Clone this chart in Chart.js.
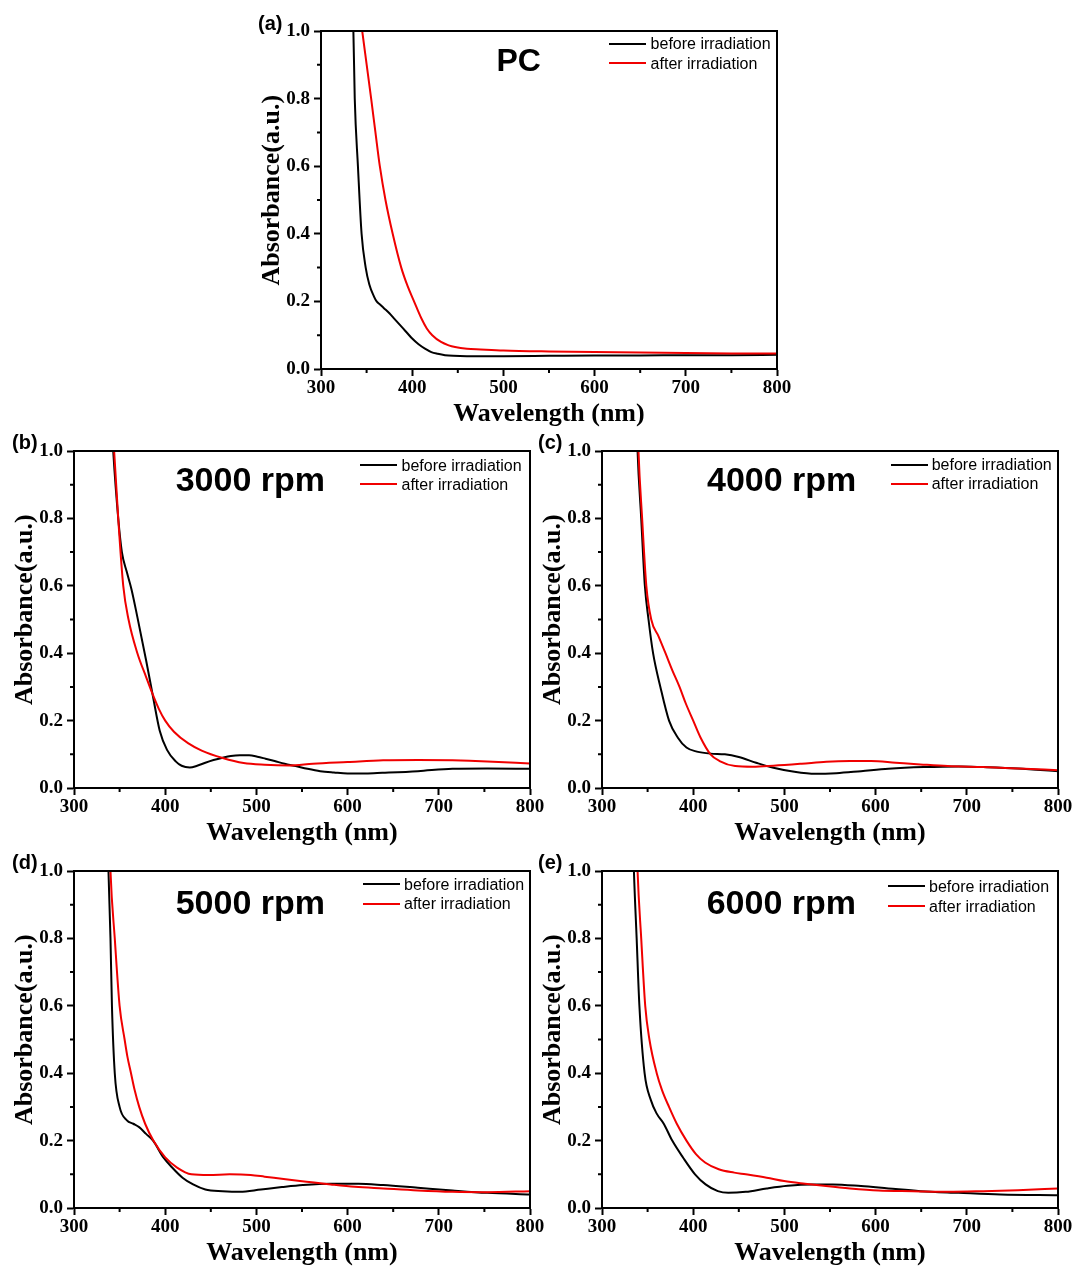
<!DOCTYPE html>
<html>
<head>
<meta charset="utf-8">
<script src="https://cdn.jsdelivr.net/npm/chart.js@4.4.0/dist/chart.umd.min.js"></script>
<style>
    body { margin: 0; background: #fff; width: 1076px; height: 1269px; position: relative; overflow: hidden; }
    canvas.panel { position: absolute; }
    .tag { position: absolute; font: bold 20px/20px "Liberation Sans", Arial, sans-serif; color: #000; white-space: nowrap; }
    .note { position: absolute; font: bold 34px/34px "Liberation Sans", Arial, sans-serif; color: #000; white-space: nowrap; }
    .note.pc { font-size: 32px; line-height: 32px; }
    .leg { position: absolute; font: 16px/19px "Liberation Sans", Arial, sans-serif; color: #000; white-space: nowrap; }
    .swatch { position: absolute; width: 37px; height: 2px; }
</style>
</head>
<body>
<script>
// ---- data ----
const seriesNames = ['before irradiation', 'after irradiation'];
const xTicks = [300, 400, 500, 600, 700, 800];
const xMinor = [350, 450, 550, 650, 750];
const yTicks = [0, 0.2, 0.4, 0.6, 0.8, 1.0];
const yMinor = [0.1, 0.3, 0.5, 0.7, 0.9];

// (a) PC
const pcBeforeWl  = [333, 335.5, 337, 340.5, 344.5, 349, 353, 358, 361, 365, 369, 375, 380, 385, 390, 395, 400, 407, 414, 421, 428, 436, 445, 460, 500, 550, 600, 650, 700, 750, 800];
const pcBeforeAbs = [1.1, 1.0, 0.8, 0.6, 0.4, 0.3, 0.25, 0.215, 0.2, 0.19, 0.18, 0.165, 0.15, 0.135, 0.12, 0.105, 0.09, 0.073, 0.06, 0.05, 0.045, 0.041, 0.039, 0.038, 0.038, 0.039, 0.04, 0.04, 0.041, 0.041, 0.042];
const pcAfterWl   = [340.5, 345.2, 350.1, 355, 359.7, 364.5, 370.7, 378.6, 388, 395, 402, 410, 416, 422, 431.6, 440, 447, 460, 475, 500, 550, 600, 650, 700, 750, 800];
const pcAfterAbs  = [1.1, 1.0, 0.9, 0.8, 0.7, 0.6, 0.5, 0.4, 0.3, 0.245, 0.2, 0.15, 0.12, 0.1, 0.08, 0.07, 0.065, 0.06, 0.058, 0.055, 0.052, 0.05, 0.049, 0.047, 0.046, 0.046];

// (b) 3000 rpm
const r3BeforeWl  = [341, 343, 348.5, 352.5, 358, 363, 369.5, 379, 386.7, 394, 402, 411.5, 418, 427, 435, 444, 453, 463, 472, 482, 492, 501, 510, 520, 531, 543, 556, 570, 585, 600, 620, 638, 677, 715, 753, 800];
const r3BeforeAbs = [1.1, 1.0, 0.8, 0.7, 0.64, 0.59, 0.507, 0.38, 0.27, 0.17, 0.113, 0.079, 0.066, 0.061, 0.066, 0.075, 0.083, 0.09, 0.095, 0.097, 0.097, 0.093, 0.087, 0.08, 0.072, 0.065, 0.057, 0.05, 0.046, 0.043, 0.043, 0.045, 0.05, 0.057, 0.058, 0.057];
const r3AfterWl   = [342, 344, 348.5, 354, 359.8, 369.5, 379, 386, 393, 400, 409.6, 425, 440, 463, 486, 509, 536, 562, 600, 639, 677, 715, 753, 800];
const r3AfterAbs  = [1.1, 1.0, 0.8, 0.6, 0.5, 0.4, 0.33, 0.28, 0.235, 0.2, 0.167, 0.133, 0.111, 0.089, 0.074, 0.069, 0.067, 0.072, 0.077, 0.082, 0.083, 0.082, 0.079, 0.073];

// (c) 4000 rpm
const r4BeforeWl  = [338, 339, 343, 347, 351, 356, 364, 373.5, 383, 392.6, 404, 419, 434.7, 450, 469, 488, 511, 534, 557, 584, 614, 653, 691, 718, 756, 800];
const r4BeforeAbs = [1.1, 1.0, 0.8, 0.6, 0.5, 0.4, 0.3, 0.2, 0.15, 0.12, 0.108, 0.102, 0.1, 0.092, 0.075, 0.06, 0.048, 0.042, 0.044, 0.05, 0.057, 0.062, 0.064, 0.062, 0.058, 0.05];
const r4AfterWl   = [339, 340, 344, 348.6, 354, 362, 369.6, 377, 385, 392, 400, 408, 419, 429, 446, 465, 488, 519, 546, 572, 595, 622, 649, 679, 718, 756, 800];
const r4AfterAbs  = [1.1, 1.0, 0.8, 0.6, 0.5, 0.45, 0.4, 0.35, 0.3, 0.25, 0.2, 0.15, 0.1, 0.08, 0.065, 0.063, 0.066, 0.072, 0.078, 0.08, 0.08, 0.075, 0.07, 0.065, 0.062, 0.058, 0.053];

// (d) 5000 rpm
const r5BeforeWl  = [337, 337.8, 340, 341.6, 344.7, 350, 358, 365, 371.4, 379, 386.7, 398, 407.7, 419, 430.6, 444, 463, 482, 505, 528, 551, 581.5, 612, 639, 677, 715, 753, 800];
const r5BeforeAbs = [1.1, 1.0, 0.8, 0.6, 0.4, 0.3, 0.26, 0.25, 0.24, 0.22, 0.2, 0.15, 0.12, 0.09, 0.07, 0.055, 0.05, 0.048, 0.055, 0.062, 0.068, 0.072, 0.072, 0.068, 0.06, 0.052, 0.045, 0.04];
const r5AfterWl   = [339, 340, 344.7, 350, 355.5, 358.5, 362.5, 366.5, 371.5, 378, 387, 400, 413, 428.7, 447.8, 470.7, 493.7, 509, 532, 555, 581.5, 608, 639, 677, 715, 753, 800];
const r5AfterAbs  = [1.1, 1.0, 0.8, 0.6, 0.5, 0.45, 0.4, 0.35, 0.3, 0.25, 0.2, 0.15, 0.12, 0.1, 0.098, 0.1, 0.098, 0.093, 0.085, 0.078, 0.07, 0.063, 0.058, 0.052, 0.048, 0.047, 0.05];

// (e) 6000 rpm
const r6BeforeWl  = [334, 335, 338, 341, 346.7, 353.6, 360, 367.7, 377, 388.8, 402, 413.6, 427, 438.5, 457.6, 480.6, 503.5, 530, 553, 584, 614, 649, 691, 737, 800];
const r6BeforeAbs = [1.1, 1.0, 0.8, 0.6, 0.4, 0.32, 0.28, 0.25, 0.2, 0.15, 0.1, 0.07, 0.05, 0.045, 0.048, 0.058, 0.066, 0.07, 0.07, 0.065, 0.058, 0.05, 0.045, 0.04, 0.038];
const r6AfterWl   = [338, 339, 343, 347.4, 352, 360, 365.8, 373.5, 382, 392.6, 403, 413, 428, 445, 457.6, 480.6, 499.7, 522.6, 545.6, 572, 603, 641, 679.5, 718, 756, 800];
const r6AfterAbs  = [1.1, 1.0, 0.8, 0.6, 0.5, 0.4, 0.35, 0.3, 0.25, 0.2, 0.16, 0.135, 0.115, 0.105, 0.1, 0.09, 0.08, 0.072, 0.065, 0.058, 0.052, 0.05, 0.048, 0.05, 0.053, 0.058];

// ---- layout of the five panels (plot rectangles in page pixels) ----
const panels = [
    { tag: '(a)', note: 'PC', L: 321, T: 31, W: 456, H: 338,
      before: [pcBeforeWl, pcBeforeAbs], after: [pcAfterWl, pcAfterAbs],
      tagPos: [258, 13], notePos: [496.5, 43.5], pc: true, leg: [609.4, 650.6, 43.8, 63.2] },
    { tag: '(b)', note: '3000 rpm', L: 74, T: 451, W: 456, H: 337,
      before: [r3BeforeWl, r3BeforeAbs], after: [r3AfterWl, r3AfterAbs],
      tagPos: [12, 431.5], notePos: [175.7, 462], leg: [360.4, 401.5, 465.3, 484.2] },
    { tag: '(c)', note: '4000 rpm', L: 602, T: 451, W: 456, H: 337,
      before: [r4BeforeWl, r4BeforeAbs], after: [r4AfterWl, r4AfterAbs],
      tagPos: [538, 431.5], notePos: [707, 462], leg: [890.5, 931.7, 464.5, 483.5] },
    { tag: '(d)', note: '5000 rpm', L: 74, T: 871, W: 456, H: 337,
      before: [r5BeforeWl, r5BeforeAbs], after: [r5AfterWl, r5AfterAbs],
      tagPos: [12, 851.5], notePos: [175.7, 885], leg: [363.2, 404, 884.3, 903.6] },
    { tag: '(e)', note: '6000 rpm', L: 602, T: 871, W: 456, H: 337,
      before: [r6BeforeWl, r6BeforeAbs], after: [r6AfterWl, r6AfterAbs],
      tagPos: [538, 851.5], notePos: [706.7, 885], leg: [888, 929, 886, 906] }
];

const colors = ['#000000', '#f00000'];
const Y_AXIS_W = 74, PAD_TOP = 21, PAD_RIGHT = 15, X_AXIS_H = 60;

Chart.defaults.color = '#000';

// frame (top/right) and minor tick marks
const frameAndMinor = {
    id: 'frameAndMinor',
    afterDraw(chart) {
        const {ctx, chartArea: a, scales: {x, y}} = chart;
        ctx.save();
        ctx.strokeStyle = '#000';
        ctx.lineWidth = 2;
        ctx.beginPath();
        ctx.moveTo(a.left - 1, a.top);
        ctx.lineTo(a.right, a.top);
        ctx.lineTo(a.right, a.bottom + 1);
        xMinor.forEach(v => {
            const px = x.getPixelForValue(v);
            ctx.moveTo(px, a.bottom);
            ctx.lineTo(px, a.bottom + 4);
        });
        yMinor.forEach(v => {
            const py = y.getPixelForValue(v);
            ctx.moveTo(a.left, py);
            ctx.lineTo(a.left - 4, py);
        });
        ctx.stroke();
        ctx.restore();
    }
};

function toPoints(wl, abs) {
    return wl.map((w, i) => ({x: w, y: abs[i]}));
}

function addDiv(cls, text, left, top) {
    const d = document.createElement('div');
    d.className = cls;
    d.textContent = text;
    d.style.left = left + 'px';
    d.style.top = top + 'px';
    document.body.appendChild(d);
    return d;
}

const tickFont = {family: '"Liberation Serif", "Times New Roman", serif', weight: 'bold', size: 19};
const titleFont = {family: '"Liberation Serif", "Times New Roman", serif', weight: 'bold', size: 26, lineHeight: 1};

panels.forEach(p => {
    const canvas = document.createElement('canvas');
    canvas.className = 'panel';
    const cw = p.W + Y_AXIS_W + PAD_RIGHT, ch = p.H + PAD_TOP + X_AXIS_H;
    canvas.width = cw; canvas.height = ch;
    canvas.style.left = (p.L - Y_AXIS_W) + 'px';
    canvas.style.top = (p.T - PAD_TOP) + 'px';
    canvas.style.width = cw + 'px';
    canvas.style.height = ch + 'px';
    document.body.appendChild(canvas);

    new Chart(canvas.getContext('2d'), {
        type: 'line',
        data: {
            datasets: [
                { label: seriesNames[0], data: toPoints(p.before[0], p.before[1]), borderColor: colors[0], order: 2 },
                { label: seriesNames[1], data: toPoints(p.after[0], p.after[1]), borderColor: colors[1], order: 1 }
            ]
        },
        options: {
            responsive: false,
            animation: false,
            devicePixelRatio: 1,
            layout: { padding: { top: PAD_TOP, right: PAD_RIGHT, left: 0, bottom: 0 } },
            elements: {
                point: { radius: 0 },
                line: { borderWidth: 2, cubicInterpolationMode: 'monotone', fill: false }
            },
            plugins: { legend: { display: false }, tooltip: { enabled: false } },
            scales: {
                x: {
                    type: 'linear', min: 300, max: 800,
                    afterBuildTicks: s => { s.ticks = xTicks.map(v => ({value: v})); },
                    afterFit: s => { s.height = X_AXIS_H; s.paddingLeft = 0; s.paddingRight = 0; },
                    ticks: { font: tickFont, padding: 1, maxRotation: 0 },
                    grid: { drawOnChartArea: false, drawTicks: true, tickLength: 7, tickWidth: 2, tickColor: '#000' },
                    border: { display: true, width: 2, color: '#000' },
                    title: { display: true, text: 'Wavelength (nm)', font: titleFont, padding: { top: 0, bottom: 2 } }
                },
                y: {
                    type: 'linear', min: 0, max: 1,
                    afterBuildTicks: s => { s.ticks = yTicks.map(v => ({value: v})); },
                    afterFit: s => { s.width = Y_AXIS_W; s.paddingTop = 0; s.paddingBottom = 0; },
                    ticks: { font: tickFont, padding: 4, callback: v => v.toFixed(1) },
                    grid: { drawOnChartArea: false, drawTicks: true, tickLength: 7, tickWidth: 2, tickColor: '#000' },
                    border: { display: true, width: 2, color: '#000' },
                    // leading spaces nudge the rotated title upward like the original
                    title: { display: true, text: '   Absorbance(a.u.)', font: titleFont, padding: { top: 12, bottom: 0 } }
                }
            }
        },
        plugins: [frameAndMinor]
    });

    // panel tag, sample label and legend as page text
    addDiv('tag', p.tag, p.tagPos[0], p.tagPos[1]);
    addDiv(p.pc ? 'note pc' : 'note', p.note, p.notePos[0], p.notePos[1]);
    const [lineX, textX, row1, row2] = p.leg;
    [row1, row2].forEach((ry, i) => {
        const sw = document.createElement('div');
        sw.className = 'swatch';
        sw.style.left = lineX + 'px';
        sw.style.top = (ry - 1) + 'px';
        sw.style.background = colors[i];
        document.body.appendChild(sw);
        addDiv('leg', seriesNames[i], textX, ry - 9.5);
    });
});
</script>
</body>
</html>
